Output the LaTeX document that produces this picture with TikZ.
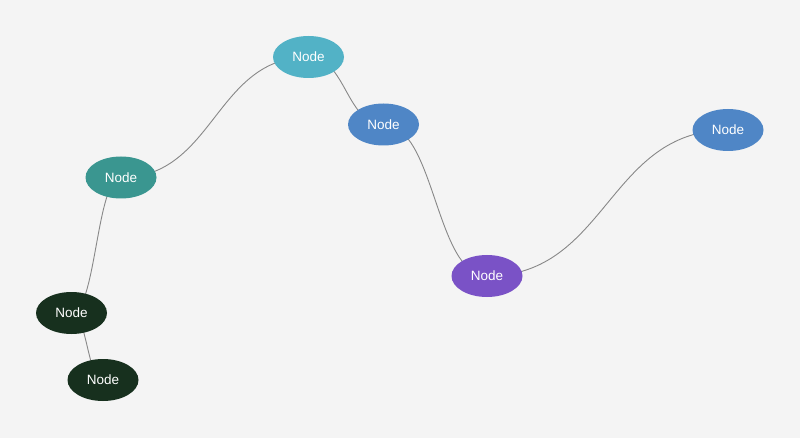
\documentclass[tikz,border=0pt]{standalone}
\usepackage{fontspec}
\setmainfont{Liberation Sans}
\usetikzlibrary{calc,shapes.geometric}
\pgfdeclarelayer{bg}
\pgfsetlayers{bg,main}
\definecolor{bgc}{HTML}{F4F4F4}
\definecolor{cA}{HTML}{52B2C6}
\definecolor{cB}{HTML}{4F86C6}
\definecolor{cC}{HTML}{3A9690}
\definecolor{cD}{HTML}{7A52C6}
\definecolor{cF}{HTML}{17301E}
\definecolor{edgec}{HTML}{888888}
\tikzset{
  nd/.style={ellipse, minimum width=71pt, minimum height=42pt, inner sep=0pt,
    text=white, font=\fontsize{13.5pt}{14pt}\selectfont},
  lnk/.style={draw=edgec, line width=0.9pt},
}
\newcommand{\hlink}[2]{%
  \draw[lnk] let \p1=(#1.center), \p2=(#2.center) in
    (\p1) .. controls ({(\x1+\x2)/2},\y1) and ({(\x1+\x2)/2},\y2) .. (\p2);}
\begin{document}
\begin{tikzpicture}[x=1pt,y=-1pt]
\useasboundingbox (0,0) rectangle (800,438);
\node[nd, fill=cA] (a) at (308.5,57) {Node};
\node[nd, fill=cB] (b) at (383.5,124.5) {Node};
\node[nd, fill=cC] (c) at (121,177.5) {Node};
\node[nd, fill=cD] (d) at (487,276) {Node};
\node[nd, fill=cB] (e) at (728,130) {Node};
\node[nd, fill=cF] (f) at (71.5,313) {Node};
\node[nd, fill=cF] (g) at (103,380) {Node};
\begin{pgfonlayer}{bg}
\fill[bgc] (0,0) rectangle (800,438);
\hlink{c}{a}
\hlink{a}{b}
\hlink{b}{d}
\hlink{d}{e}
\hlink{c}{f}
\hlink{f}{g}
\end{pgfonlayer}
\end{tikzpicture}
\end{document}
